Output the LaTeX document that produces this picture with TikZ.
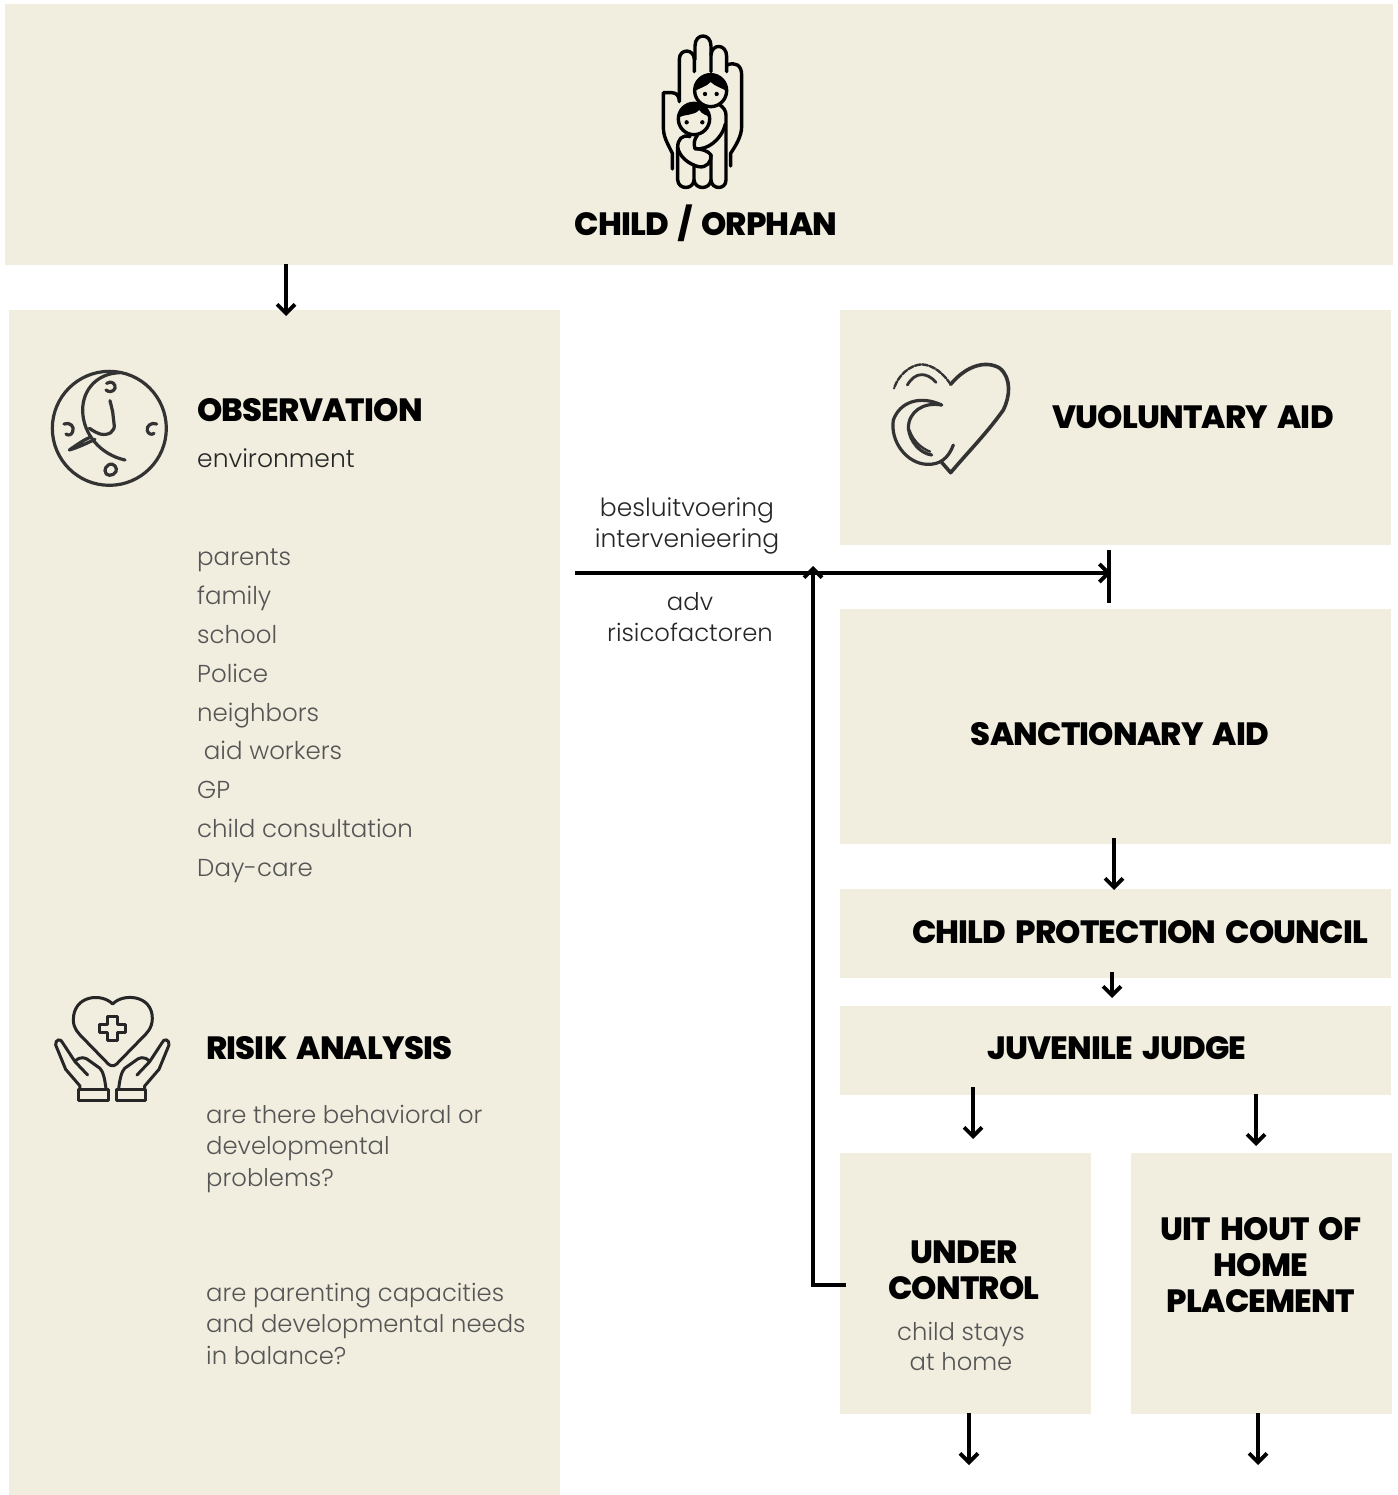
\documentclass[tikz,border=0pt]{standalone}
\usepackage{fontspec}
\setmainfont{Poppins Light}
\newfontfamily\headfont[LetterSpace=-2.5,WordSpace=1.7]{Poppins ExtraBold}
\usetikzlibrary{arrows.meta}
\definecolor{panel}{HTML}{F1EDDF}
\definecolor{bodygrey}{HTML}{555555}
\newcommand{\headsize}{\fontsize{32.2}{36}\selectfont\headfont}
\newcommand{\bodysize}{\fontsize{24.3}{31.5}\selectfont}
\tikzset{
 panelbox/.style={fill=panel,draw=none,inner sep=0pt,anchor=north west},
 head/.style={inner sep=0pt,align=center,font=\headsize,text=black},
 body/.style={inner sep=0pt,align=left,font=\bodysize,text=bodygrey},
 bodyc/.style={inner sep=0pt,align=center,font=\bodysize,text=bodygrey},
 link/.style={line width=3.8pt,draw=black,-{Straight Barb[length=9pt,width=18pt,line width=3.8pt]}},
 plain/.style={line width=3.8pt,draw=black},
 icon/.style={line width=3.4pt,draw=black,line cap=round,line join=round},
 icont/.style={line width=3pt,draw=black!85,line cap=round,line join=round},
 sketch/.style={line width=3.2pt,draw=black!80,line cap=round,line join=round}
}
\begin{document}
\begin{tikzpicture}[x=1pt,y=-1pt]
\useasboundingbox (0,0) rectangle (1397,1495);
% panels
\newcommand{\panel}[5]{\node[panelbox,minimum width=#4 pt-#2 pt,minimum height=#5 pt-#3 pt] (#1) at (#2,#3) {};}
\panel{top}{5}{4}{1393}{265}
\panel{obs}{9}{310}{560}{1495}
\panel{vol}{840}{310}{1391}{545}
\panel{san}{840}{609}{1391}{844}
\panel{cpc}{840}{889}{1391}{978}
\panel{jj}{840}{1006}{1391}{1095}
\panel{uc}{840}{1153}{1091}{1414}
\panel{uit}{1131}{1153}{1392}{1414}
% headings
\node[head] (tChild) at (706,223) {CHILD / ORPHAN};
\node[head,anchor=west] (tObs) at (197,410) {OBSERVATION};
\node[body,anchor=west,text=black!85,font=\fontsize{25}{31}\selectfont] (tEnv) at (197,458) {environment};
\node[body,anchor=north west,font=\fontsize{24.5}{38.8}\selectfont] (tList) at (197,549) {parents\\family\\school\\Police\\neighbors\\\ aid workers\\GP\\child consultation\\Day-care};
\node[head,anchor=west] (tRisk) at (206,1048) {RISIK ANALYSIS};
\node[body,anchor=north west] (tQ1) at (206,1105) {are there behavioral or\\developmental\\problems?};
\node[body,anchor=north west] (tQ2) at (206,1283) {are parenting capacities\\and developmental needs\\in balance?};
\node[head] (tVol) at (1193,417) {VUOLUNTARY AID};
\node[head] (tSan) at (1120,734) {SANCTIONARY AID};
\node[head] (tCpc) at (1140,932) {CHILD PROTECTION COUNCIL};
\node[head] (tJj) at (1117,1048) {JUVENILE JUDGE};
\node[head] (tUc) at (964,1270) {UNDER\\CONTROL};
\node[bodyc,font=\fontsize{24.3}{30}\selectfont] (tStay) at (961,1346) {child stays\\at home};
\node[head] (tUit) at (1261,1265) {UIT HOUT OF\\HOME\\PLACEMENT};
\node[bodyc,text=black!85,font=\fontsize{25}{31}\selectfont] (tBes) at (687,526) {besluitvoering\\intervenieering};
\node[bodyc,text=black!85,font=\fontsize{24.3}{31}\selectfont] (tAdv) at (690,617) {adv\\risicofactoren};
% connector ends
\coordinate (a1s) at (286,264); \coordinate (a1e) at (286,316);
\coordinate (hS) at (575,573); \coordinate (hE) at (1111,573);
\coordinate (barT) at (1109,550); \coordinate (barB) at (1109,603);
\coordinate (vS) at (846,1285); \coordinate (vC) at (813,1285); \coordinate (vE) at (813,566);
\coordinate (a2s) at (1114,838); \coordinate (a2e) at (1114,890);
\coordinate (a3s) at (1112,972); \coordinate (a3e) at (1112,998);
\coordinate (a4s) at (973,1087); \coordinate (a4e) at (973,1139);
\coordinate (a5s) at (1256,1094); \coordinate (a5e) at (1256,1146);
\coordinate (a6s) at (969,1413); \coordinate (a6e) at (969,1465);
\coordinate (a7s) at (1258,1413); \coordinate (a7e) at (1258,1465);
\draw[link] (a1s) -- (a1e);
\draw[plain] (barT) -- (barB);
\draw[link] (hS) -- (hE);
\draw[link] (vS) -- (vC) -- (vE);
\draw[link] (a2s) -- (a2e);
\draw[link] (a3s) -- (a3e);
\draw[link] (a4s) -- (a4e);
\draw[link] (a5s) -- (a5e);
\draw[link] (a6s) -- (a6e);
\draw[link] (a7s) -- (a7e);
% hand icon
\begin{scope}[shift={(640,20)},x=0.3333pt,y=-0.3333pt]
\draw[icon] (97,447) -- (97,400) .. controls (80,365) and (70,350) .. (70,320) -- (70,218) -- (95,218) .. controls (110,218) and (118,228) .. (118,245) -- (118,118) .. controls (118,85) and (162,85) .. (163,118) -- (163,155);
\draw[icon] (165,118) -- (165,78) .. controls (165,38) and (213,38) .. (213,78) -- (213,155);
\draw[icon] (213,105) .. controls (215,70) and (260,70) .. (260,110) -- (260,155);
\draw[icon] (262,135) .. controls (285,125) and (305,135) .. (305,165) -- (305,320) .. controls (305,350) and (285,380) .. (272,400) -- (272,438);
% bodies
\draw[icon] (113,380) -- (113,480) .. controls (115,510) and (160,510) .. (162,480) -- (162,435);
\draw[icon] (162,480) .. controls (165,510) and (210,510) .. (213,480) -- (213,405);
\draw[icon] (213,480) .. controls (215,510) and (258,510) .. (258,480) -- (258,285) .. controls (258,272) and (250,262) .. (240,255);
\draw[icon] (165,386) .. controls (200,392) and (245,360) .. (256,312);
% child arm
\draw[icon] (150,350) .. controls (125,342) and (113,360) .. (113,382) .. controls (118,410) and (145,432) .. (175,440) .. controls (200,445) and (215,425) .. (213,405) .. controls (205,392) and (180,386) .. (165,386) .. controls (160,370) and (163,358) .. (172,346);
% woman head
\draw[icon,fill=panel] (212,212) circle (48);
\fill[black] (164,214) arc (180:360:48) .. controls (250,205) and (225,200) .. (212,186) .. controls (200,200) and (175,205) .. (164,214) -- cycle;
\fill[black] (195,222) circle (6.5) (230,222) circle (6.5);
% child head
\draw[icon,fill=panel] (162,297) circle (47);
\fill[black] (116,292) arc (186:354:47) .. controls (200,285) and (185,283) .. (178,270) .. controls (160,288) and (135,282) .. (116,292) -- cycle;
\fill[black] (140,307) circle (6.5) (187,307) circle (6.5);
\end{scope}
% clock-like icon
\begin{scope}[shift={(40,360)},x=0.3333pt,y=-0.3333pt]
\draw[sketch] (208,205) circle (171);
\draw[sketch] (240,38) .. controls (170,40) and (128,90) .. (128,150) .. controls (128,225) and (185,285) .. (255,300);
\draw[sketch] (210,122) -- (218,155) -- (222,190) .. controls (228,215) and (205,228) .. (180,222) .. controls (160,215) and (150,205) .. (148,205);
\draw[sketch] (150,232) .. controls (130,240) and (110,255) .. (88,270) .. controls (115,262) and (140,250) .. (165,238);
\draw[sketch] (200,70) .. controls (215,60) and (228,72) .. (225,85) .. controls (220,97) and (205,97) .. (198,90);
\draw[sketch] (72,192) .. controls (90,185) and (105,200) .. (98,215) .. controls (95,225) and (85,228) .. (78,222);
\draw[sketch] (350,192) .. controls (333,185) and (318,200) .. (322,212) .. controls (325,222) and (335,226) .. (342,220);
\draw[sketch] (205,315) .. controls (222,305) and (233,325) .. (228,335) .. controls (220,350) and (195,350) .. (195,332) .. controls (195,325) and (198,320) .. (205,315);
\end{scope}
% heart icon
\begin{scope}[shift={(880,355)},x=0.3333pt,y=-0.3333pt]
\draw[sketch,line width=3.6pt] (212,88) .. controls (260,30) and (320,15) .. (360,40) .. controls (395,70) and (390,125) .. (370,165) .. controls (320,235) and (265,290) .. (212,353) -- (185,322);
\draw[sketch,line width=2.4pt,dash pattern=on 6pt off 1.5pt] (212,88) .. controls (190,55) and (160,30) .. (125,28) .. controls (90,30) and (55,60) .. (42,100);
\draw[sketch,line width=2.8pt] (82,90) .. controls (105,50) and (140,50) .. (168,82);
\draw[sketch] (185,150) .. controls (120,120) and (60,140) .. (40,195) .. controls (30,260) and (80,325) .. (140,328) .. controls (180,330) and (205,310) .. (220,270);
\draw[sketch] (185,150) .. controls (130,140) and (85,170) .. (85,220) .. controls (90,260) and (120,295) .. (155,300);
\draw[sketch,line width=2.4pt] (88,225) .. controls (100,260) and (125,280) .. (150,290);
\end{scope}
% hands icon
\begin{scope}[shift={(45,990)},x=0.3333pt,y=-0.3333pt]
\draw[icont] (203,42) .. controls (170,8) and (85,15) .. (85,90) .. controls (85,115) and (100,130) .. (115,145) -- (190,222) .. controls (198,229) and (207,229) .. (215,222) -- (290,145) .. controls (305,130) and (322,115) .. (322,85) .. controls (322,15) and (235,8) .. (203,42) -- cycle;
\draw[icont] (188,78) -- (217,78) -- (217,103) -- (242,103) -- (242,127) -- (217,127) -- (217,152) -- (188,152) -- (188,127) -- (165,127) -- (165,103) -- (188,103) -- cycle;
\draw[icont] (102,297) rectangle (190,332);
\draw[icont] (302,297) rectangle (214,332);
\draw[icont] (105,297) -- (105,288) -- (62,238) -- (32,165) .. controls (30,148) and (48,143) .. (54,160) -- (90,215) .. controls (105,195) and (125,205) .. (130,210) -- (165,235) .. controls (175,245) and (180,270) .. (183,297);
\draw[icont] (90,215) -- (128,255);
\draw[icont] (299,297) -- (299,288) -- (342,238) -- (372,165) .. controls (374,148) and (356,143) .. (350,160) -- (314,215) .. controls (299,195) and (279,205) .. (274,210) -- (239,235) .. controls (229,245) and (224,270) .. (221,297);
\draw[icont] (314,215) -- (276,255);
\end{scope}
\end{tikzpicture}
\end{document}
